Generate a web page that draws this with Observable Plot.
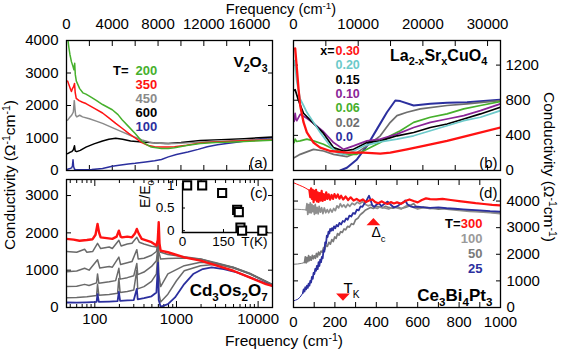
<!DOCTYPE html>
<html><head><meta charset="utf-8">
<script src="https://cdn.jsdelivr.net/npm/d3@7"></script>
<script src="https://cdn.jsdelivr.net/npm/@observablehq/plot@0.6"></script>
<style>
body{margin:0;background:#fff;}
#chart{position:relative;width:561px;height:351px;overflow:hidden;font-family:"Liberation Sans",Arial,Helvetica,sans-serif;color:#000}
.lbl{position:absolute;font-size:15.5px;line-height:1;white-space:nowrap}
.lbl.top{font-size:14.5px}
.lbl sup{font-size:68%;vertical-align:0.5em;line-height:0}
</style></head><body><div id="chart"></div>
<script>
// ================= DATA =================
// Panel (a) V2O3 : frequency (cm-1) vs conductivity
const aXTicks = [0,2000,4000,6000,8000,10000,12000,14000,16000,18000];
const aXLabels = [0,4000,8000,12000,16000];
const aYTicks = [0,1000,2000,3000,4000];
const aTemps = ["200","350","450","600","100"];
const v2o3_200 = [[100,4100],[200,3800],[300,3570],[430,3350],[570,3200],[650,3100],[715,3300],[770,2950],[860,2750],[1150,2520],[1430,2390],[1700,2350],[2000,2290],[2600,2160],[3150,2030],[4000,1870],[4500,1720],[4860,1560],[5430,1350],[6000,1140],[6580,900],[6870,830],[7400,720],[8300,675],[8900,680],[9440,700],[10500,770],[11700,830],[13000,860],[14600,880],[16000,900],[18000,930]];
const v2o3_350 = [[100,2750],[200,2650],[350,2500],[430,2430],[520,2520],[620,2580],[700,2680],[760,2400],[850,2220],[1100,2150],[1400,2100],[1700,2060],[2400,1920],[3150,1770],[3700,1620],[4300,1450],[4860,1300],[5430,1140],[6000,1000],[6580,860],[7150,770],[7700,730],[8300,720],[8900,720],[9440,730],[10500,780],[11700,850],[13000,880],[14600,900],[16000,920],[18000,940]];
const v2o3_450 = [[100,1550],[250,1620],[450,1700],[600,1800],[680,2150],[740,1900],[800,1700],[900,1650],[1150,1700],[1400,1650],[2000,1590],[2600,1520],[3150,1450],[4000,1320],[4860,1190],[5700,1060],[6600,940],[7200,880],[7700,850],[8600,820],[9400,830],[10600,850],[11700,880],[13500,900],[15500,930],[18000,960]];
const v2o3_600 = [[100,520],[300,560],[450,580],[600,640],[700,760],[760,600],[900,580],[1200,620],[1700,720],[2400,820],[3150,910],[3700,960],[4300,990],[4900,960],[5600,910],[6600,880],[7700,850],[8900,830],[10000,860],[11700,920],[13500,950],[15500,980],[18000,1030]];
const v2o3_100 = [[100,40],[300,60],[450,80],[520,150],[570,330],[620,120],[700,40],[900,20],[1500,20],[2200,30],[3150,60],[4000,130],[4600,160],[5400,200],[6000,220],[6900,260],[7700,300],[8300,340],[8900,420],[9600,490],[10600,570],[11500,650],[12300,730],[13200,790],[14000,830],[15000,880],[16000,930],[17000,980],[18000,1010]];

// Panel (b) La2-xSrxCuO4
const bXTicks = [0,5000,10000,15000,20000,25000,30000];
const bXLabels = [0,10000,20000,30000];
const bYTicks = [0,400,800,1200];
const bDoping = ["0.30","0.20","0.15","0.10","0.06","0.02","0.0"];
const lsco_030 = [[258,1390],[516,1165],[774,930],[1032,740],[1548,550],[2064,433],[3096,318],[4128,260],[5676,222],[8256,203],[10836,203],[13416,192],[14964,203],[17544,240],[20124,280],[23736,337],[26832,395],[32000,490]];
const lsco_020 = [[150,1250],[516,1008],[1032,816],[1548,740],[2064,663],[3096,548],[4128,433],[5676,280],[6708,203],[7740,184],[8772,203],[10836,280],[13416,326],[16000,357],[18576,395],[21156,452],[23736,510],[26316,567],[28896,606],[32000,682]];
const lsco_015 = [[100,912],[258,920],[774,797],[1548,652],[3096,537],[4644,422],[6192,260],[7740,222],[9288,241],[11352,318],[13416,337],[16000,395],[18576,433],[21156,490],[23736,529],[26316,586],[28896,644],[32000,720]];
const lsco_010 = [[100,560],[258,650],[400,580],[516,567],[1032,640],[2064,594],[3096,537],[4644,441],[6192,318],[7740,241],[9288,280],[11352,337],[13416,357],[16000,414],[18576,490],[21156,548],[23736,586],[26316,625],[28896,682],[32000,759]];
const lsco_006 = [[100,318],[258,357],[500,330],[1032,337],[2064,357],[3096,337],[4644,299],[6192,241],[8256,184],[9804,184],[11352,241],[13416,318],[14964,395],[16512,452],[18576,548],[21156,606],[23736,644],[26316,701],[28896,740],[32000,786]];
const lsco_002 = [[100,146],[1032,184],[3096,241],[4644,222],[6192,184],[8256,157],[9804,203],[11352,280],[13416,395],[14964,548],[16000,625],[17544,663],[19608,701],[23736,740],[26832,759],[32000,797]];
const lsco_000 = [[7224,0],[8256,31],[9804,126],[11352,280],[12900,471],[14448,663],[15738,797],[16512,790],[18576,740],[21156,759],[23736,770],[26832,778],[32000,805]];

// Panel (c) Cd2Os2O7 (log frequency)
const cXMajor = [100,1000,10000];
const cXMinor = [50,60,70,80,90,200,300,400,500,600,700,800,900,2000,3000,4000,5000,6000,7000,8000,9000];
const cYTicks = [0,1000,2000,3000];
const cd_red = [[45,1840],[55,1820],[65,1790],[80,1810],[94,1830],[102,1950],[108,2240],[113,2000],[118,1880],[140,1860],[164,1840],[185,1900],[197,2060],[207,1900],[216,1880],[250,1900],[285,1880],[310,1980],[327,2105],[345,1980],[375,1840],[495,1750],[568,1660],[590,1800],[606,2285],[620,1700],[640,1525],[785,1480],[1245,1345],[1972,1255],[3126,1120],[4960,985],[7870,806],[12470,627],[15000,580]];
const cd_g1 = [[45,1500],[60,1480],[75,1560],[80,1480],[94,1500],[108,1720],[118,1580],[150,1620],[164,1580],[197,1800],[210,1650],[250,1700],[285,1720],[327,1880],[350,1750],[400,1700],[495,1640],[568,1620],[600,1900],[640,1480],[785,1420],[1245,1360],[1972,1300],[3126,1170],[4960,1060],[7870,900],[12470,700],[15000,620]];
const cd_g2 = [[45,960],[60,980],[75,1050],[85,1000],[108,1280],[115,1060],[150,1100],[164,1080],[197,1350],[207,1150],[250,1200],[285,1230],[327,1550],[340,1300],[400,1320],[495,1400],[568,1500],[595,1750],[606,1500],[640,1300],[785,1310],[1245,1326],[1972,1300],[3126,1190],[4960,1080],[7870,920],[12470,700],[15000,610]];
const cd_g3 = [[45,560],[60,570],[75,620],[85,590],[105,660],[108,900],[112,650],[150,690],[180,720],[197,1050],[204,760],[250,800],[300,850],[327,1180],[335,880],[400,950],[495,1100],[568,1250],[595,1650],[606,900],[640,560],[785,900],[1245,1120],[1972,1210],[3126,1180],[4960,1070],[7870,910],[12470,700],[15000,600]];
const cd_g4 = [[45,260],[60,270],[80,290],[105,320],[108,620],[112,330],[150,350],[190,380],[197,780],[204,400],[250,430],[300,470],[327,1000],[335,500],[400,560],[495,700],[568,900],[595,1550],[606,400],[640,150],[785,358],[1000,717],[1245,985],[1972,1120],[3126,1160],[4960,1070],[7870,900],[12470,690],[15000,600]];
const cd_blue = [[45,134],[60,130],[80,140],[105,150],[108,358],[112,150],[150,160],[190,170],[197,420],[204,180],[250,190],[300,200],[327,500],[335,220],[400,250],[495,300],[568,400],[595,1200],[606,200],[640,20],[785,90],[960,270],[1245,627],[1600,896],[2100,1030],[2700,1075],[3800,1030],[5500,940],[9000,760],[15000,580]];
// inset: gap energy vs temperature
const insetT = [17,72,145,200,206,212,218,292];
const insetE = [1.0,1.0,0.83,0.46,0.41,0.07,0.0,0.0];
const insetXTicks = [0,150];
const insetYTicks = [0,0.5,1];

// Panel (d) Ce3Bi4Pt3
const dXTicks = [0,100,200,300,400,500,600,700,800,900,1000];
const dXLabels = [0,200,400,600,800,1000];
const dYTicks = [0,1000,2000,3000,4000];
const dTemps = ["300","100","50","25"];
const dMarkFreq = [386, 239];
const dMarkSigma = [3200, 417];
const ce_300_fit = [[0,4690],[15,4640],[30,4590],[45,4540],[60,4480],[77,4400]];
const ce_300 = [[77,4400],[81,4150],[85,4480],[89,4080],[93,4420],[97,3960],[101,4380],[105,4050],[109,4420],[113,3990],[117,4330],[121,3970],[126,4300],[131,4020],[136,4380],[141,4010],[146,4260],[152,4040],[158,4330],[164,4080],[170,4250],[177,4050],[184,4230],[191,4080],[198,4260],[206,4120],[214,4250],[222,4090],[230,4200],[240,4060],[252,4170],[264,4040],[276,4140],[290,4020],[305,4080],[320,4000],[335,4060],[350,3960],[365,4020],[380,4060],[395,3960],[410,3920],[425,3990],[440,3930],[455,3890],[470,3960],[485,3910],[500,3950],[520,3900],[540,4000],[560,4060],[580,4000],[600,3950],[620,4040],[640,4100],[660,4070],[690,4060],[720,4080],[760,4040],[800,4000],[840,3960],[880,3920],[920,3890],[960,3860],[1000,3840]];
const ce_100_fit = [[0,3690],[20,3690],[40,3680],[61,3670]];
const ce_100 = [[61,3670],[65,3900],[69,3500],[73,3870],[77,3560],[81,3930],[85,3550],[89,3880],[93,3600],[97,3820],[101,3500],[105,3880],[109,3540],[114,3760],[119,3520],[124,3800],[130,3580],[136,3750],[142,3530],[149,3740],[156,3560],[163,3680],[170,3560],[178,3700],[186,3580],[194,3720],[202,3640],[210,3820],[218,3740],[226,3900],[234,3780],[243,3860],[252,3760],[262,3880],[272,3800],[283,3920],[295,3860],[308,3960],[320,3900],[333,3980],[346,3880],[360,3820],[375,3860],[390,3760],[405,3720],[420,3790],[440,3740],[460,3700],[480,3780],[500,3740],[520,3700],[540,3800],[560,3850],[580,3760],[600,3700],[630,3760],[660,3710],[700,3740],[750,3690],[800,3650],[850,3610],[900,3590],[950,3560],[1000,3530]];
const ce_50_fit = [[0,1625],[20,1635],[40,1660],[53,1690]];
const ce_50 = [[53,1690],[57,1900],[61,1680],[65,1880],[69,1720],[73,1950],[77,1760],[81,1900],[86,1780],[91,1960],[96,1830],[101,1940],[106,1850],[111,2030],[116,1900],[121,2080],[127,1980],[133,2120],[139,2080],[145,2250],[151,2180],[157,2350],[164,2300],[171,2450],[178,2380],[185,2550],[192,2480],[199,2650],[206,2600],[213,2780],[220,2720],[228,2850],[236,2820],[244,2950],[252,2920],[261,3050],[270,3020],[280,3150],[290,3120],[300,3300],[311,3350],[322,3480],[334,3560],[346,3650],[358,3700],[372,3760],[386,3720],[400,3800],[415,3780],[430,3740],[445,3800],[460,3760],[480,3730],[500,3790],[520,3720],[540,3760],[560,3820],[580,3900],[600,3740],[630,3770],[660,3740],[700,3700],[750,3720],[800,3680],[850,3650],[900,3610],[950,3580],[1000,3550]];
const ce_25_fit = [[0,250],[10,275],[21,312],[32,390],[45,540]];
const ce_25 = [[45,540],[49,680],[53,600],[57,760],[61,680],[65,820],[69,740],[73,900],[77,820],[81,1000],[85,940],[89,1150],[93,1080],[97,1300],[101,1260],[105,1450],[109,1380],[113,1560],[117,1440],[121,1700],[125,1560],[129,1800],[133,1700],[137,1900],[141,1850],[145,2150],[149,2100],[153,2450],[157,2400],[161,2700],[165,2650],[169,2850],[173,2780],[177,2950],[181,2880],[186,2980],[191,2900],[196,3050],[202,2980],[208,3100],[215,3050],[222,3180],[230,3120],[238,3250],[246,3220],[254,3350],[262,3300],[270,3450],[279,3420],[288,3550],[297,3520],[306,3680],[315,3650],[324,3800],[333,3780],[342,3900],[350,3980],[358,4100],[365,4200],[372,4050],[380,3850],[390,3780],[400,3860],[412,3920],[425,3810],[440,3900],[455,3980],[470,3860],[485,3760],[500,3800],[515,3880],[530,3950],[540,4020],[550,3880],[565,3800],[580,3770],[600,3790],[630,3760],[660,3740],[700,3760],[740,3730],[780,3710],[820,3690],[860,3670],[900,3650],[950,3620],[1000,3600]];

// ================= STYLE =================
const FONT = '"Liberation Sans", Arial, Helvetica, sans-serif';
const STYLE = {fontFamily: FONT, fontSize: "15px", color: "#000", background: "transparent", overflow: "visible"};
const RED = "#ff1212", GREEN = "#46b02c", GRAY = "#8a8a8a", DGRAY = "#6e6e6e", BLUE = "#2b2f9e", CYAN = "#6ccaca", PURPLE = "#8a2497";
const aColors = [GREEN, RED, GRAY, "#000", BLUE];
const bColors = [RED, CYAN, "#000", PURPLE, GREEN, DGRAY, BLUE];
const dColors = [RED, "#9a9a9a", "#7a7a7a", BLUE];

const chart = document.getElementById("chart");
const xy = {x: d => d[0], y: d => d[1]};
const fmt = d => String(d);
const none = () => "";
function line(data, stroke, w = 1.5) {
  return Plot.line(data, {...xy, stroke, strokeWidth: w, clip: true});
}
function txt(s, x, y, o = {}) {
  return Plot.text([s], {x, y, text: d => d, fill: "#000", fontSize: 15, textAnchor: "end", ...o});
}
function richify(root) {
  root.querySelectorAll("text").forEach(t => {
    if (t.querySelector("tspan")) return;
    const s = t.textContent;
    if (!/[_^]/.test(s)) return;
    const g = t.closest("[font-size]");
    const fs = parseFloat(t.getAttribute("font-size") || (g && g.getAttribute("font-size")) || 15);
    t.textContent = "";
    const re = /([_^])(?:\{([^}]*)\}|(.))/g;
    let last = 0, m, cur = 0;
    const add = (str, shift) => {
      if (!str) return;
      const sp = document.createElementNS("http://www.w3.org/2000/svg", "tspan");
      sp.textContent = str;
      if (shift !== cur) sp.setAttribute("dy", (shift - cur));
      if (shift !== 0) sp.setAttribute("font-size", (fs * 0.68).toFixed(1));
      cur = shift;
      t.appendChild(sp);
    };
    while ((m = re.exec(s))) {
      add(s.slice(last, m.index), 0);
      add(m[2] !== undefined ? m[2] : m[3], m[1] === "_" ? fs * 0.3 : -fs * 0.4);
      last = re.lastIndex;
    }
    add(s.slice(last), 0);
  });
}
function place(svg, left, top) {
  richify(svg);
  svg.style.position = "absolute";
  svg.style.left = left + "px";
  svg.style.top = top + "px";
  chart.appendChild(svg);
}
const flatTri = {draw(ctx, size) {
  const r = Math.sqrt(size / Math.PI);
  ctx.moveTo(-1.25 * r, 0.55 * r); ctx.lineTo(1.25 * r, 0.55 * r); ctx.lineTo(0, -0.8 * r); ctx.closePath();
}};

// ================= PANEL (a) =================
const aLegend = aTemps.map((t, i) => txt(t, 6030, 3077 - i * 431, {fill: aColors[i], fontWeight: "bold", fontSize: 13, textAnchor: "start"}));
place(Plot.plot({
  width: 280, height: 175, marginLeft: 66, marginRight: 8, marginTop: 40, marginBottom: 5,
  style: STYLE, x: {domain: [0, 18000]}, y: {domain: [0, 4000]},
  marks: [
    Plot.axisX({anchor: "top", ticks: aXTicks, tickFormat: d => aXLabels.includes(d) ? String(d) : "", tickSize: -5, tickPadding: 17, label: null}),
    Plot.axisX({anchor: "bottom", ticks: aXTicks, tickFormat: none, tickSize: -5, label: null}),
    Plot.axisY({anchor: "left", ticks: aYTicks, tickFormat: fmt, tickSize: -5, tickPadding: 13, label: null}),
    Plot.axisY({anchor: "right", ticks: aYTicks, tickFormat: none, tickSize: -5, label: null}),
    line(v2o3_100, BLUE), line(v2o3_600, "#000"), line(v2o3_450, GRAY), line(v2o3_350, RED), line(v2o3_200, GREEN),
    Plot.frame({stroke: "#000", strokeWidth: 1.3}),
    txt("T=", 5418, 3077, {fontWeight: "bold", fontSize: 13}),
    ...aLegend,
    txt("V_2O_3", 17563, 3323, {fontWeight: "bold", fontSize: 15.5}),
    txt("(a)", 17563, 215, {fontSize: 15})
  ]
}), 0, 0);

// ================= PANEL (b) =================
const bLegend = bDoping.map((t, i) => txt(t, 6490, 1366 - i * 165, {fill: bColors[i], fontWeight: "bold", fontSize: 12.5, textAnchor: "start"}));
place(Plot.plot({
  width: 276, height: 175, marginLeft: 8, marginRight: 61, marginTop: 40, marginBottom: 5,
  style: STYLE, x: {domain: [0, 32000]}, y: {domain: [0, 1480]},
  marks: [
    Plot.axisX({anchor: "top", ticks: bXTicks, tickFormat: d => bXLabels.includes(d) ? String(d) : "", tickSize: -5, tickPadding: 17, label: null}),
    Plot.axisX({anchor: "bottom", ticks: bXTicks, tickFormat: none, tickSize: -5, label: null}),
    Plot.axisY({anchor: "right", ticks: bYTicks, tickFormat: fmt, tickSize: -5, tickPadding: 10, label: null}),
    Plot.axisY({anchor: "left", ticks: bYTicks, tickFormat: none, tickSize: -5, label: null}),
    line(lsco_000, BLUE, 2), line(lsco_002, DGRAY, 1.7), line(lsco_006, GREEN, 1.7), line(lsco_010, PURPLE, 1.7),
    line(lsco_015, "#000", 1.7), line(lsco_020, CYAN, 1.7), line(lsco_030, RED, 2.3),
    Plot.frame({stroke: "#000", strokeWidth: 1.3}),
    txt("x=", 6340, 1366, {fontWeight: "bold", fontSize: 12.5}),
    ...bLegend,
    txt("La_{2-x}Sr_xCuO_4", 29945, 1309, {fontWeight: "bold", fontSize: 16}),
    txt("(b)", 31540, 80, {fontSize: 15})
  ]
}), 285, 0);

// ================= PANEL (c) =================
place(Plot.plot({
  width: 280, height: 176, marginLeft: 66, marginRight: 8, marginTop: 4, marginBottom: 44,
  style: STYLE, x: {type: "log", domain: [45, 15000]}, y: {domain: [0, 3430]},
  marks: [
    Plot.axisX({anchor: "bottom", ticks: cXMajor, tickFormat: fmt, tickSize: -6, tickPadding: 12, label: null}),
    Plot.axisX({anchor: "bottom", ticks: cXMinor, tickFormat: none, tickSize: -3, label: null}),
    Plot.axisX({anchor: "top", ticks: cXMajor, tickFormat: none, tickSize: -6, label: null}),
    Plot.axisX({anchor: "top", ticks: cXMinor, tickFormat: none, tickSize: -3, label: null}),
    Plot.axisY({anchor: "left", ticks: cYTicks, tickFormat: fmt, tickSize: -5, tickPadding: 13, label: null}),
    Plot.axisY({anchor: "right", ticks: cYTicks, tickFormat: none, tickSize: -5, label: null}),
    line(cd_g1, "#6a6a6a", 1.5), line(cd_g2, "#6a6a6a", 1.5), line(cd_g3, "#6a6a6a", 1.5), line(cd_g4, "#6a6a6a", 1.5),
    line(cd_blue, BLUE, 1.8), line(cd_red, RED, 2.4),
    Plot.frame({stroke: "#000", strokeWidth: 1.3}),
    txt("(c)", 13070, 3055, {fontSize: 15}),
    txt("Cd_3Os_2O_7", 13070, 456, {fontWeight: "bold", fontSize: 17})
  ]
}), 0, 175);

// inset of (c)
place(Plot.plot({
  width: 145, height: 75, marginLeft: 52, marginRight: 8, marginTop: 7, marginBottom: 19,
  style: {...STYLE, fontSize: "13.5px"}, x: {domain: [0, 311]}, y: {domain: [-0.04, 1.04]},
  marks: [
    Plot.frame({anchor: "left", stroke: "#000", strokeWidth: 1.3}),
    Plot.frame({anchor: "bottom", stroke: "#000", strokeWidth: 1.3}),
    Plot.axisX({anchor: "bottom", ticks: insetXTicks, tickFormat: fmt, tickSize: -3, tickPadding: 7, label: null}),
    Plot.axisY({anchor: "left", ticks: insetYTicks, tickFormat: fmt, tickSize: -3, tickPadding: 11, label: null}),
    Plot.dot(insetT.map((t, i) => [t, insetE[i]]), {...xy, symbol: "square", r: 4.6, stroke: "#000", strokeWidth: 2, fill: "white"}),
    Plot.text(["T(K)"], {frameAnchor: "bottom-right", textAnchor: "end", lineAnchor: "top", dy: 4, fontSize: 13.5}),
    Plot.text(["E/E_0"], {frameAnchor: "left", rotate: -90, dx: -37, fontSize: 14})
  ]
}), 130, 176);

// ================= PANEL (d) =================
const dLegend = dTemps.map((t, i) => txt(t, 913, 3157 - i * 564, {fill: dColors[i], fontWeight: "bold", fontSize: 13}));
place(Plot.plot({
  width: 276, height: 176, marginLeft: 8, marginRight: 61, marginTop: 4, marginBottom: 44,
  style: STYLE, x: {domain: [0, 1000]}, y: {domain: [0, 4810]},
  marks: [
    Plot.axisX({anchor: "bottom", ticks: dXTicks, tickFormat: d => dXLabels.includes(d) ? String(d) : "", tickSize: -5, tickPadding: 14, label: null}),
    Plot.axisX({anchor: "top", ticks: dXTicks, tickFormat: none, tickSize: -5, label: null}),
    Plot.axisY({anchor: "right", ticks: dYTicks, tickFormat: fmt, tickSize: -5, tickPadding: 11, label: null}),
    Plot.axisY({anchor: "left", ticks: dYTicks, tickFormat: none, tickSize: -5, label: null}),
    line(ce_50_fit, "#7a7a7a", 1), line(ce_50, "#7a7a7a", 1.7),
    line(ce_100_fit, "#8e8e8e", 1), line(ce_100, "#8e8e8e", 1.7),
    line(ce_25_fit, BLUE, 1), line(ce_25, BLUE, 1.8),
    line(ce_300_fit, RED, 1), line(ce_300, RED, 2.2),
    Plot.dot([0], {x: dMarkFreq[0], y: dMarkSigma[0], symbol: flatTri, r: 5.5, fill: RED}),
    Plot.dot([0], {x: dMarkFreq[1], y: dMarkSigma[1], symbol: flatTri, r: 5.5, fill: RED, rotate: 180}),
    txt("Δ_c", 386, 2805, {textAnchor: "start", fontSize: 14, dx: -2}),
    txt("T_K", 242, 720, {textAnchor: "start", fontSize: 15}),
    Plot.frame({stroke: "#000", strokeWidth: 1.3}),
    txt("T=", 807, 3157, {fontWeight: "bold", fontSize: 13}),
    ...dLegend,
    txt("(d)", 985, 4284, {fontSize: 15}),
    txt("Ce_3Bi_4Pt_3", 961, 451, {fontWeight: "bold", fontSize: 17})
  ]
}), 285, 175);

// ================= SHARED AXIS TITLES =================
function title(html, cx, cy, rot, cls) {
  const d = document.createElement("div");
  d.className = "lbl" + (cls ? " " + cls : "");
  d.innerHTML = html;
  d.style.left = cx + "px"; d.style.top = cy + "px";
  d.style.transform = `translate(-50%,-50%)` + (rot ? ` rotate(${rot}deg)` : "");
  chart.appendChild(d);
}
title("Frequency (cm<sup>-1</sup>)", 281, 8.5, 0, "top");
title("Frequency (cm<sup>-1</sup>)", 284, 341, 0);
title("Conductivity (Ω<sup>-1</sup>cm<sup>-1</sup>)", 10, 175, -90);
title("Conductivity (Ω<sup>-1</sup>cm<sup>-1</sup>)", 549, 167, 90);
</script>
</body></html>
